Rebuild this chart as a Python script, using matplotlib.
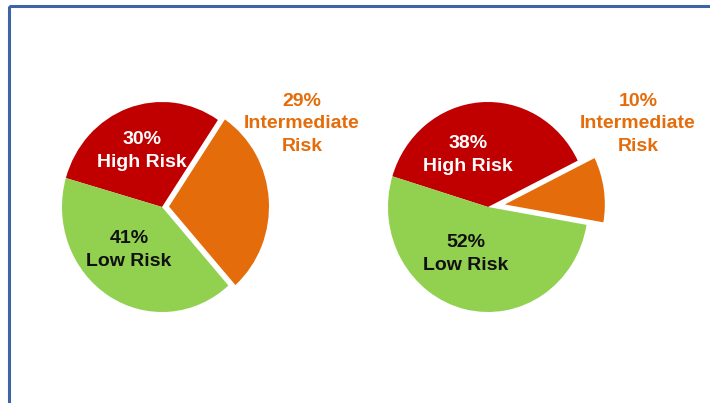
import matplotlib.pyplot as plt
from matplotlib.patches import Rectangle

# data
categories = ['High Risk', 'Intermediate Risk', 'Low Risk']
left_values = [30, 29, 41]
right_values = [38, 10, 52]
colors = ['#C00000', '#E46C0A', '#92D050']

W, H = 710, 403
fig = plt.figure(figsize=(W / 100, H / 100), dpi=100)
fig.patch.set_facecolor('white')

# blue frame (only top and left edges show)
frame_ax = fig.add_axes([0, 0, 1, 1])
frame_ax.set_xlim(0, W)
frame_ax.set_ylim(H, 0)
frame_ax.axis('off')
frame_ax.add_patch(Rectangle((9, 5.5), 800, 500, fill=False,
                             edgecolor='#3D65A5', linewidth=2.2))


def px(x, y):
    return x / W, 1 - y / H


def draw_pie(cx, cy, values, start, explode_orange):
    # 1 data unit = 100 px wide, 105 px tall (slightly stretched original)
    ax = fig.add_axes([(cx - 150) / W, (H - cy - 157.5) / H, 300 / W, 315 / H])
    ax.pie(values, colors=colors, startangle=start, counterclock=False,
           explode=[0, explode_orange, 0], radius=1,
           wedgeprops=dict(linewidth=0))
    ax.set_aspect('auto')
    ax.set_xlim(-1.5, 1.5)
    ax.set_ylim(-1.5, 1.5)
    ax.axis('off')


draw_pie(162, 207, left_values, 164, 0.07)
draw_pie(488, 207, right_values, 163, 0.17)

font = dict(family='Liberation Sans', weight='bold', fontsize=14,
            ha='center', va='center', linespacing=1.4)


def labels(values, pos_high, pos_mid, pos_low):
    fig.text(*px(*pos_high), f'{values[0]}%\n{categories[0]}',
             color='white', **font)
    fig.text(*px(*pos_mid), f'{values[1]}%\nIntermediate\nRisk',
             color='#E46C0A', **font)
    fig.text(*px(*pos_low), f'{values[2]}%\n{categories[2]}',
             color='#111111', **font)


labels(left_values, (142, 151), (302, 124), (129, 250))
labels(right_values, (468, 155), (638, 124), (466, 254))

fig.savefig('out.png', dpi=100, facecolor='white')
